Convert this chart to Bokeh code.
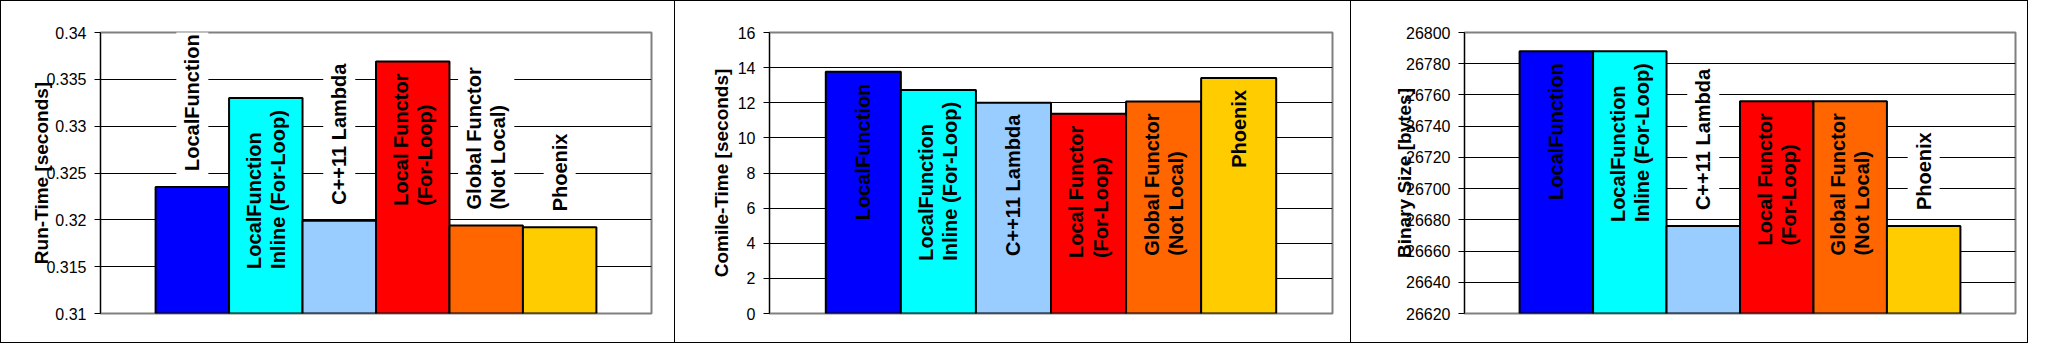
import math
from bokeh.plotting import figure
from bokeh.layouts import row
from bokeh.models import Range1d, FixedTicker, ColumnDataSource
from bokeh.core.properties import value
from bokeh.embed import file_html
from bokeh.resources import INLINE

# ---------------- data ----------------
series = [
    "LocalFunction",
    "LocalFunction\nInline (For-Loop)",
    "C++11 Lambda",
    "Local Functor\n(For-Loop)",
    "Global Functor\n(Not Local)",
    "Phoenix",
]
colors = ["#0000FF", "#00FFFF", "#99CCFF", "#FF0000", "#FF6600", "#FFCC00"]

run_time = [0.3235, 0.3330, 0.3199, 0.3369, 0.3194, 0.3192]
compile_time = [13.77, 12.73, 12.00, 11.37, 12.07, 13.41]
binary_size = [26788, 26788, 26676, 26756, 26756, 26676]

run_ticks = [0.31, 0.315, 0.32, 0.325, 0.33, 0.335, 0.34]
run_tick_labels = ["0.31", "0.315", "0.32", "0.325", "0.33", "0.335", "0.34"]
compile_ticks = [0, 2, 4, 6, 8, 10, 12, 14, 16]
compile_tick_labels = ["0", "2", "4", "6", "8", "10", "12", "14", "16"]
size_ticks = [26620, 26640, 26660, 26680, 26700, 26720, 26740, 26760, 26780, 26800]
size_tick_labels = ["26620", "26640", "26660", "26680", "26700", "26720", "26740", "26760", "26780", "26800"]

run_title = "Run-Time [seconds]"
compile_title = "Comile-Time [seconds]"
size_title = "Binary Size [bytes]"

# ---------------- styling helpers ----------------
FONT = "Liberation Sans"
LABEL_PX = 20
PLOT_H = 281
TOP = 31
BOTTOM = 31

# Arial Bold advance widths (per 1000 em) used to decide label placement
AW = {" ": 278, "(": 333, ")": 333, "+": 584, "-": 333, "1": 556, "C": 722, "F": 611,
      "G": 778, "I": 278, "L": 611, "N": 722, "P": 667, "a": 556, "b": 611, "c": 556,
      "d": 611, "e": 556, "h": 611, "i": 278, "l": 278, "m": 889, "n": 611, "o": 611,
      "p": 611, "r": 389, "t": 333, "u": 611, "x": 556}


def text_len(s):
    return max(sum(AW.get(ch, 600) for ch in line) for line in s.split("\n")) * LABEL_PX / 1000.0


def make_panel(vals, ticks, tick_labels, title, width, left, right, standoff, border):
    ymin, ymax = ticks[0], ticks[-1]
    p = figure(width=width, height=TOP + PLOT_H + BOTTOM,
               x_range=Range1d(-1.25, len(vals) - 1 + 1.25),
               y_range=Range1d(ymin, ymax),
               output_backend="svg", toolbar_location=None,
               min_border_left=left, min_border_right=right,
               min_border_top=TOP, min_border_bottom=BOTTOM)
    p.styles = border
    p.background_fill_color = "white"
    p.border_fill_color = "white"
    p.outline_line_color = "#808080"
    p.outline_line_width = 2

    p.xaxis.visible = False
    p.xgrid.visible = False
    p.ygrid.ticker = FixedTicker(ticks=ticks[1:-1])
    p.ygrid.grid_line_color = "black"
    p.ygrid.grid_line_width = 1

    ax = p.yaxis[0]
    ax.ticker = FixedTicker(ticks=ticks)
    ax.major_label_overrides = {t: l for t, l in zip(ticks, tick_labels)}
    ax.axis_line_color = "black"
    ax.major_tick_line_color = "black"
    ax.major_tick_in = 0
    ax.major_tick_out = 6
    ax.minor_tick_line_color = None
    ax.major_label_standoff = 8
    ax.major_label_text_font = FONT
    ax.major_label_text_font_size = "16px"
    ax.major_label_text_color = "black"
    ax.axis_label = title
    ax.axis_label_text_font = FONT
    ax.axis_label_text_font_style = "bold"
    ax.axis_label_text_font_size = "19px"
    ax.axis_label_text_color = "black"
    ax.axis_label_standoff = standoff

    idx = list(range(len(vals)))
    src = ColumnDataSource(dict(x=idx, top=vals, color=colors, name=series))
    p.vbar(x="x", top="top", bottom=ymin, width=1.0, source=src,
           fill_color="color", line_color="black", line_width=2)

    inside = dict(x=[], y=[], t=[])
    outside = dict(x=[], y=[], t=[])
    for i, v in enumerate(vals):
        bar_px = (v - ymin) / (ymax - ymin) * PLOT_H
        tgt = inside if bar_px >= text_len(series[i]) + 20 else outside
        tgt["x"].append(i)
        tgt["y"].append(v)
        tgt["t"].append(series[i])

    common = dict(angle=math.pi / 2, text_font=value(FONT), text_font_style="bold",
                  text_font_size=f"{LABEL_PX}px", text_color="black", text_align="left",
                  text_line_height=1.1)
    if inside["x"]:
        p.text(x="x", y="y", text="t", source=ColumnDataSource(inside),
               anchor="center_right", y_offset=12, **common)
    if outside["x"]:
        p.text(x="x", y="y", text="t", source=ColumnDataSource(outside),
               anchor="center_left", y_offset=-11,
               background_fill_color="white", padding=5, **common)
    return p


full = {"border": "1px solid black"}
no_left = {"border-top": "1px solid black", "border-right": "1px solid black",
           "border-bottom": "1px solid black"}

p1 = make_panel(run_time, run_ticks, run_tick_labels, run_title, 675, 99, 25, -9, full)
p2 = make_panel(compile_time, compile_ticks, compile_tick_labels, compile_title, 676, 94, 19, 3, no_left)
p3 = make_panel(binary_size, size_ticks, size_tick_labels, size_title, 677, 113, 13, -12, no_left)

layout = row(p1, p2, p3)
open("out.html", "w").write(file_html(layout, INLINE))
